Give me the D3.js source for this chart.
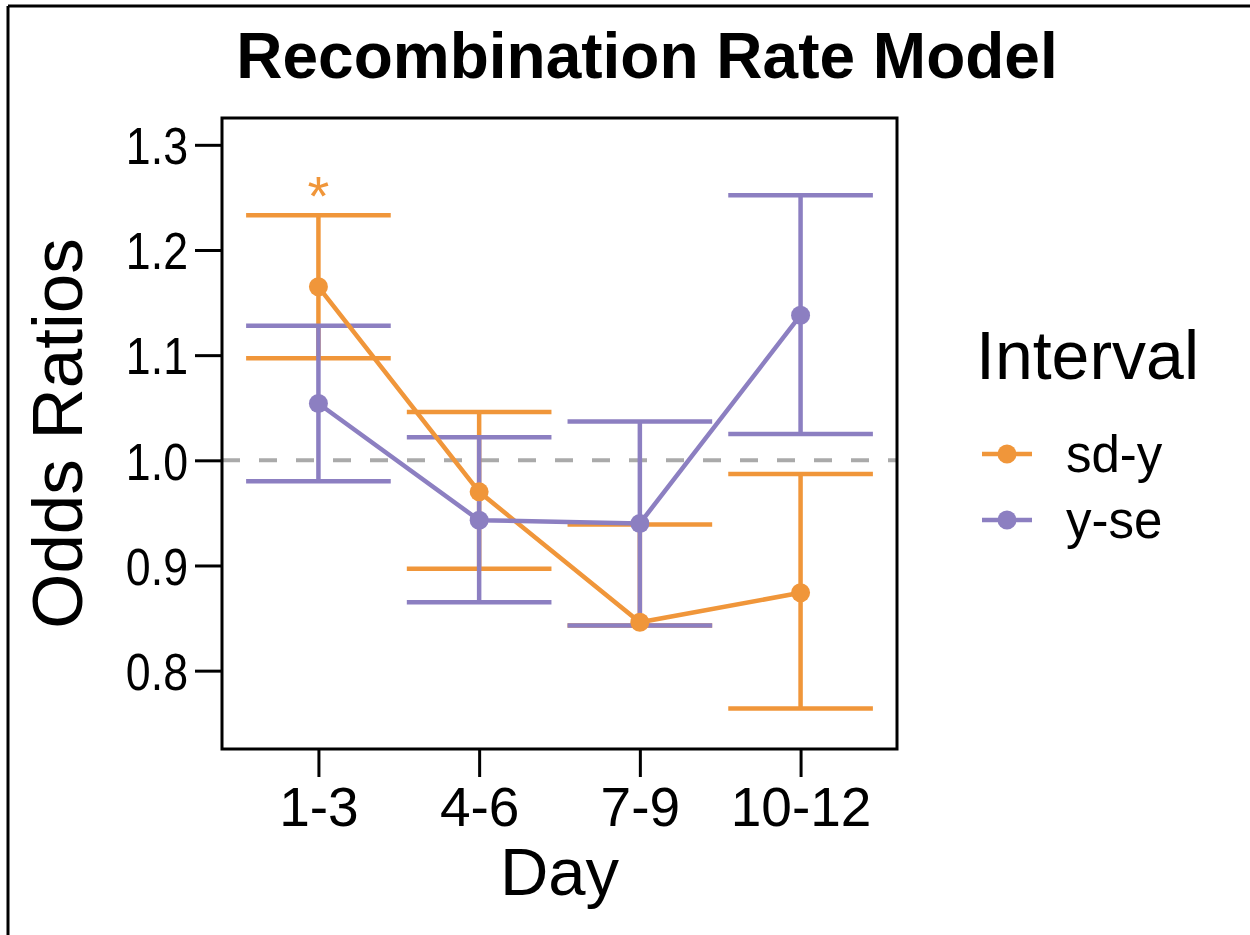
<!DOCTYPE html>
<html>
<head>
<meta charset="utf-8">
<script src="https://cdn.jsdelivr.net/npm/d3@7"></script>
<style>
  body { margin: 0; background: #fff; }
  svg { display: block; }
  text { font-family: "Liberation Sans", Arial, Helvetica, sans-serif; }
</style>
</head>
<body>
<svg id="chart" width="1250" height="935"></svg>
<script>
const days = ["1-3", "4-6", "7-9", "10-12"];
const seriesNames = ["sd-y", "y-se"];
const sdyMean  = [1.165, 0.970, 0.846, 0.874];
const sdyLower = [1.097, 0.897, 0.843, 0.764];
const sdyUpper = [1.233, 1.046, 0.939, 0.987];
const yseMean  = [1.054, 0.943, 0.940, 1.138];
const yseLower = [0.980, 0.865, 0.843, 1.025];
const yseUpper = [1.128, 1.022, 1.037, 1.252];
const yTicks = [0.8, 0.9, 1.0, 1.1, 1.2, 1.3];
const refLine = 1.0;
const starDay = "1-3";
const colors = { "sd-y": "#F0963A", "y-se": "#8C7FC1" };

const series = [
  { name: "sd-y", mean: sdyMean, lower: sdyLower, upper: sdyUpper },
  { name: "y-se", mean: yseMean, lower: yseLower, upper: yseUpper }
];

const svg = d3.select("#chart");
const panel = { left: 222, right: 897, top: 118, bottom: 749 };
const lw = 4.5;

// outer frame (left + top only, as cropped)
svg.append("line").attr("x1", 8).attr("x2", 1250).attr("y1", 6).attr("y2", 6)
  .attr("stroke", "#000").attr("stroke-width", 3);
svg.append("line").attr("x1", 8).attr("x2", 8).attr("y1", 6).attr("y2", 935)
  .attr("stroke", "#000").attr("stroke-width", 3);

const x = d3.scalePoint().domain(days)
  .range([panel.left, panel.right]).padding(0.6);
const step = x.step();
const y = d3.scaleLinear().domain([0.7255, 1.3255]).range([panel.bottom, panel.top]);

// title
svg.append("text").attr("x", 647).attr("y", 78).attr("text-anchor", "middle")
  .attr("font-size", 64).attr("font-weight", "bold").attr("fill", "#000")
  .text("Recombination Rate Model");

// reference dashed line
svg.append("line")
  .attr("x1", panel.left).attr("x2", panel.right)
  .attr("y1", y(refLine)).attr("y2", y(refLine))
  .attr("stroke", "#AAAAAA").attr("stroke-width", 4)
  .attr("stroke-dasharray", "18,19");

const capHalf = step * 0.45;

// error bars
series.forEach(s => {
  const g = svg.append("g").attr("stroke", colors[s.name]).attr("stroke-width", lw)
    .attr("fill", "none");
  days.forEach((d, i) => {
    const cx = x(d);
    g.append("line").attr("x1", cx).attr("x2", cx)
      .attr("y1", y(s.lower[i])).attr("y2", y(s.upper[i]));
    g.append("line").attr("x1", cx - capHalf).attr("x2", cx + capHalf)
      .attr("y1", y(s.lower[i])).attr("y2", y(s.lower[i]));
    g.append("line").attr("x1", cx - capHalf).attr("x2", cx + capHalf)
      .attr("y1", y(s.upper[i])).attr("y2", y(s.upper[i]));
  });
});

// lines
const lineGen = d3.line().x((v, i) => x(days[i])).y(v => y(v));
series.forEach(s => {
  svg.append("path").attr("d", lineGen(s.mean))
    .attr("fill", "none").attr("stroke", colors[s.name]).attr("stroke-width", lw);
});

// points
series.forEach(s => {
  svg.append("g").selectAll("circle").data(s.mean).join("circle")
    .attr("cx", (v, i) => x(days[i])).attr("cy", v => y(v)).attr("r", 9.5)
    .attr("fill", colors[s.name]);
});

// significance star
const si = days.indexOf(starDay);
svg.append("text").attr("x", x(starDay)).attr("y", y(sdyUpper[si]))
  .attr("text-anchor", "middle").attr("font-size", 56).attr("fill", colors["sd-y"])
  .text("*");

// panel border
svg.append("rect").attr("x", panel.left).attr("y", panel.top)
  .attr("width", panel.right - panel.left).attr("height", panel.bottom - panel.top)
  .attr("fill", "none").attr("stroke", "#000").attr("stroke-width", 3);

// y axis
const yTickSize = 27, yPad = 7, yCompress = 0.86;
const yAxis = svg.append("g").attr("transform", `translate(${panel.left},0)`)
  .call(d3.axisLeft(y).tickValues(yTicks).tickFormat(d3.format(".1f"))
    .tickSize(yTickSize).tickPadding(yPad));
yAxis.select(".domain").remove();
yAxis.selectAll(".tick line").attr("stroke", "#000").attr("stroke-width", 3);
yAxis.selectAll(".tick text").attr("font-size", 52).attr("fill", "#000")
  .attr("dy", "0.36em")
  .attr("x", -(yTickSize + yPad) / yCompress)
  .attr("transform", `scale(${yCompress},1)`)
  .attr("font-family", "'Liberation Sans', Arial, sans-serif");

// x axis
const xAxis = svg.append("g").attr("transform", `translate(0,${panel.bottom})`)
  .call(d3.axisBottom(x).tickSize(28).tickPadding(10));
xAxis.select(".domain").remove();
xAxis.selectAll(".tick line").attr("stroke", "#000").attr("stroke-width", 3);
xAxis.selectAll(".tick text").attr("font-size", 55).attr("fill", "#000")
  .attr("font-family", "'Liberation Sans', Arial, sans-serif");

// axis titles
svg.append("text").attr("x", (panel.left + panel.right) / 2).attr("y", 895)
  .attr("text-anchor", "middle").attr("font-size", 67).attr("fill", "#000").text("Day");
svg.append("text")
  .attr("transform", `translate(82,${(panel.top + panel.bottom) / 2}) rotate(-90)`)
  .attr("text-anchor", "middle").attr("font-size", 71).attr("fill", "#000")
  .text("Odds Ratios");

// legend
const leg = svg.append("g");
leg.append("text").attr("x", 976).attr("y", 379).attr("font-size", 68).attr("fill", "#000")
  .text("Interval");
seriesNames.forEach((n, i) => {
  const cy = 454 + i * 66;
  leg.append("line").attr("x1", 982).attr("x2", 1032).attr("y1", cy).attr("y2", cy)
    .attr("stroke", colors[n]).attr("stroke-width", lw);
  leg.append("circle").attr("cx", 1007).attr("cy", cy).attr("r", 9.5).attr("fill", colors[n]);
  leg.append("text").attr("x", 1066).attr("y", cy + 18).attr("font-size", 51)
    .attr("fill", "#000").text(n);
});
</script>
</body>
</html>
